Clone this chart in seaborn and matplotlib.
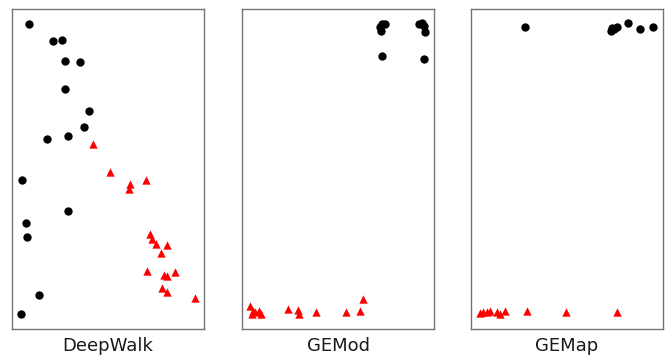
import matplotlib
matplotlib.use("Agg")
import matplotlib.pyplot as plt
import seaborn as sns
import pandas as pd

sns.set_style("white")

methods = ["DeepWalk", "GEMod", "GEMap"]

# DeepWalk
dw_circle_x = [0.090, 0.215, 0.260, 0.276, 0.356, 0.276, 0.403, 0.377, 0.181, 0.290,
               0.051, 0.290, 0.073, 0.077, 0.142, 0.048]
dw_circle_y = [0.954, 0.901, 0.902, 0.837, 0.834, 0.750, 0.682, 0.630, 0.594, 0.604,
               0.466, 0.368, 0.331, 0.287, 0.106, 0.046]
dw_tri_x = [0.423, 0.510, 0.616, 0.609, 0.696, 0.720, 0.731, 0.748, 0.806, 0.774,
            0.702, 0.790, 0.806, 0.847, 0.781, 0.806, 0.953]
dw_tri_y = [0.578, 0.490, 0.453, 0.438, 0.465, 0.297, 0.282, 0.266, 0.262, 0.238,
            0.181, 0.170, 0.166, 0.179, 0.128, 0.117, 0.097]

# GEMod
gm_circle_x = [0.731, 0.717, 0.726, 0.743, 0.920, 0.936, 0.949, 0.954, 0.728, 0.946]
gm_circle_y = [0.952, 0.943, 0.932, 0.953, 0.952, 0.955, 0.947, 0.929, 0.853, 0.844]
gm_tri_x = [0.042, 0.056, 0.051, 0.068, 0.091, 0.099, 0.237, 0.290, 0.297, 0.387,
            0.541, 0.614, 0.632]
gm_tri_y = [0.073, 0.057, 0.047, 0.052, 0.055, 0.047, 0.062, 0.059, 0.047, 0.054,
            0.052, 0.055, 0.093]

# GEMap
gp_circle_x = [0.283, 0.733, 0.745, 0.759, 0.728, 0.816, 0.880, 0.949]
gp_circle_y = [0.945, 0.940, 0.937, 0.943, 0.932, 0.955, 0.938, 0.943]
gp_tri_x = [0.047, 0.064, 0.082, 0.099, 0.134, 0.151, 0.177, 0.290, 0.495, 0.759]
gp_tri_y = [0.049, 0.052, 0.054, 0.057, 0.052, 0.047, 0.055, 0.055, 0.052, 0.052]

panels = [
    (dw_circle_x, dw_circle_y, dw_tri_x, dw_tri_y),
    (gm_circle_x, gm_circle_y, gm_tri_x, gm_tri_y),
    (gp_circle_x, gp_circle_y, gp_tri_x, gp_tri_y),
]

fig = plt.figure(figsize=(6.67, 3.6), dpi=100)
lefts = [12 / 667, 242 / 667, 471 / 667]
for left, name, (cx, cy, tx, ty) in zip(lefts, methods, panels):
    ax = fig.add_axes([left, 31 / 360, 192 / 667, 320 / 360])
    dfc = pd.DataFrame({"x": cx, "y": cy})
    dft = pd.DataFrame({"x": tx, "y": ty})
    sns.scatterplot(data=dfc, x="x", y="y", ax=ax, color="black", marker="o",
                    s=36, linewidth=0)
    sns.scatterplot(data=dft, x="x", y="y", ax=ax, color="red", marker="^",
                    s=36, linewidth=0)
    ax.set_xlim(0, 1)
    ax.set_ylim(0, 1)
    ax.set_xticks([])
    ax.set_yticks([])
    ax.set_ylabel("")
    ax.set_xlabel(name, fontsize=13, labelpad=6, color="#1a1a1a")
    for sp in ax.spines.values():
        sp.set_color("0.45")
        sp.set_linewidth(1.0)

fig.savefig("out.png", dpi=100)
